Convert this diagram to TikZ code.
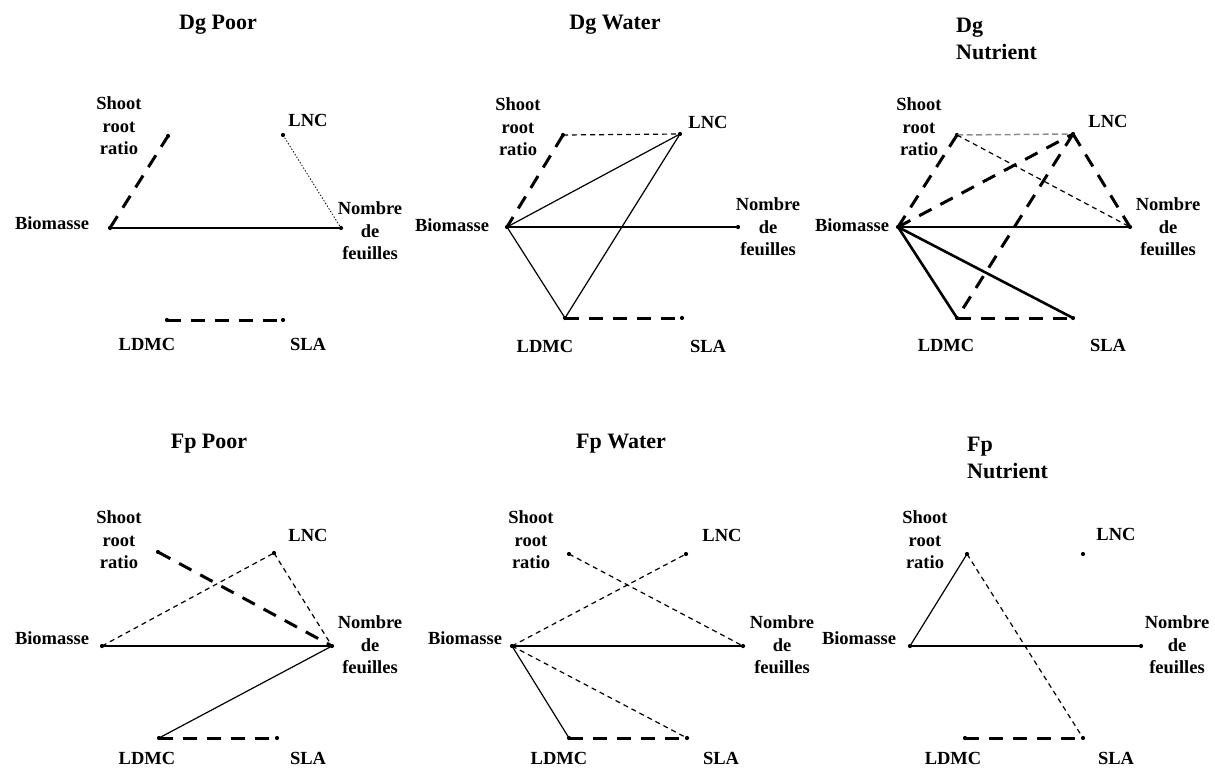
\documentclass[tikz,border=0pt]{standalone}
\usepackage{fontspec}
\setmainfont{Liberation Serif}
\begin{document}
\begin{tikzpicture}[x=1pt,y=-1pt,
  dot/.style={circle,fill=black,inner sep=0pt,minimum size=4.2pt},
  lab/.style={inner sep=0pt,align=center,font=\bfseries\fontsize{18.5}{22.5}\selectfont},
  ttl/.style={inner sep=0pt,align=center,font=\bfseries\fontsize{22}{27}\selectfont},
  ttlL/.style={inner sep=0pt,align=left,anchor=west,font=\bfseries\fontsize{22}{27}\selectfont},
  solidthin/.style={line width=1.2pt},
  solidthick/.style={line width=2.6pt},
  bigdash/.style={line width=3pt,dash pattern=on 14pt off 10pt},
  smalldash/.style={line width=1.2pt,dash pattern=on 5pt off 4pt},
  greydash/.style={line width=1.5pt,draw=black!45,dash pattern=on 6pt off 3.5pt},
  dotline/.style={line width=0.8pt,dash pattern=on 1.4pt off 1.8pt}]
\useasboundingbox (0,0) rectangle (1215,769);

% ---------- Panel 1: Dg Poor ----------
\node[ttl] (t1) at (218,25) {Dg Poor};
\node[dot] (a1) at (110,228) {};
\node[dot] (s1) at (168,136) {};
\node[dot] (l1) at (283,135) {};
\node[dot] (n1) at (341,228) {};
\node[dot] (d1) at (167,320) {};
\node[dot] (e1) at (283,320) {};
\node[lab] (as1) at (52,223) {Biomasse};
\node[lab] (ss1) at (119,126) {Shoot\\root\\ratio};
\node[lab] (ls1) at (308,120) {LNC};
\node[lab] (ns1) at (370,231) {Nombre\\de\\feuilles};
\node[lab] (ds1) at (147,344) {LDMC};
\node[lab] (es1) at (308,344) {SLA};
\draw[bigdash] (a1.center) -- (s1.center);
\draw[dotline] (l1.center) -- (n1.center);
\draw[solidthin] (a1.center) -- (n1.center);
\draw[bigdash] (d1.center) -- (e1.center);

% ---------- Panel 2: Dg Water ----------
\node[ttl] (t2) at (615,25) {Dg Water};
\node[dot] (a2) at (507,227) {};
\node[dot] (s2) at (563,135) {};
\node[dot] (l2) at (680,134) {};
\node[dot] (n2) at (738,227) {};
\node[dot] (d2) at (565,318) {};
\node[dot] (e2) at (682,318) {};
\node[lab] (as2) at (452,225) {Biomasse};
\node[lab] (ss2) at (518,127) {Shoot\\root\\ratio};
\node[lab] (ls2) at (708,122) {LNC};
\node[lab] (ns2) at (768,227) {Nombre\\de\\feuilles};
\node[lab] (ds2) at (545,346) {LDMC};
\node[lab] (es2) at (708,346) {SLA};
\draw[smalldash] (s2.center) -- (l2.center);
\draw[bigdash] (s2.center) -- (a2.center);
\draw[solidthin] (a2.center) -- (l2.center);
\draw[solidthin] (l2.center) -- (d2.center);
\draw[solidthick] (a2.center) -- (n2.center);
\draw[solidthin] (a2.center) -- (d2.center);
\draw[bigdash] (d2.center) -- (e2.center);

% ---------- Panel 3: Dg Nutrient ----------
\node[ttlL] (t3) at (956,38.5) {Dg\\Nutrient};
\node[dot] (a3) at (898,227) {};
\node[dot] (s3) at (957,135) {};
\node[dot] (l3) at (1073,134) {};
\node[dot] (n3) at (1130,227) {};
\node[dot] (d3) at (957,318) {};
\node[dot] (e3) at (1073,318) {};
\node[lab] (as3) at (852,225) {Biomasse};
\node[lab] (ss3) at (919,127) {Shoot\\root\\ratio};
\node[lab] (ls3) at (1108,121) {LNC};
\node[lab] (ns3) at (1168,227) {Nombre\\de\\feuilles};
\node[lab] (ds3) at (946,345) {LDMC};
\node[lab] (es3) at (1108,345) {SLA};
\draw[greydash] (s3.center) -- (l3.center);
\draw[smalldash] (s3.center) -- (n3.center);
\draw[bigdash] (s3.center) -- (a3.center);
\draw[bigdash] (a3.center) -- (l3.center);
\draw[bigdash] (l3.center) -- (d3.center);
\draw[bigdash] (l3.center) -- (n3.center);
\draw[solidthick] (a3.center) -- (n3.center);
\draw[solidthick] (a3.center) -- (e3.center);
\draw[solidthick] (a3.center) -- (d3.center);
\draw[bigdash] (d3.center) -- (e3.center);

% ---------- Panel 4: Fp Poor ----------
\node[ttl] (t4) at (209,444) {Fp Poor};
\node[dot] (a4) at (102,646) {};
\node[dot] (s4) at (158,552) {};
\node[dot] (l4) at (274,553) {};
\node[dot] (n4) at (332,646) {};
\node[dot] (d4) at (159,738) {};
\node[dot] (e4) at (277,738) {};
\node[lab] (as4) at (52,638) {Biomasse};
\node[lab] (ss4) at (119,540) {Shoot\\root\\ratio};
\node[lab] (ls4) at (308,535) {LNC};
\node[lab] (ns4) at (370,645) {Nombre\\de\\feuilles};
\node[lab] (ds4) at (147,758) {LDMC};
\node[lab] (es4) at (308,758) {SLA};
\draw[bigdash] (s4.center) -- (n4.center);
\draw[smalldash] (a4.center) -- (l4.center);
\draw[smalldash] (l4.center) -- (n4.center);
\draw[solidthin] (a4.center) -- (n4.center);
\draw[solidthin] (d4.center) -- (n4.center);
\draw[bigdash] (d4.center) -- (e4.center);

% ---------- Panel 5: Fp Water ----------
\node[ttl] (t5) at (621,444) {Fp Water};
\node[dot] (a5) at (512,646) {};
\node[dot] (s5) at (569,554) {};
\node[dot] (l5) at (686,554) {};
\node[dot] (n5) at (743,646) {};
\node[dot] (d5) at (569,738) {};
\node[dot] (e5) at (687,738) {};
\node[lab] (as5) at (465,638) {Biomasse};
\node[lab] (ss5) at (531,540) {Shoot\\root\\ratio};
\node[lab] (ls5) at (722,535) {LNC};
\node[lab] (ns5) at (782,645) {Nombre\\de\\feuilles};
\node[lab] (ds5) at (559,758) {LDMC};
\node[lab] (es5) at (721,758) {SLA};
\draw[smalldash] (s5.center) -- (n5.center);
\draw[smalldash] (a5.center) -- (l5.center);
\draw[solidthin] (a5.center) -- (n5.center);
\draw[smalldash] (a5.center) -- (e5.center);
\draw[solidthin] (a5.center) -- (d5.center);
\draw[bigdash] (d5.center) -- (e5.center);

% ---------- Panel 6: Fp Nutrient ----------
\node[ttlL] (t6) at (967,457.5) {Fp\\Nutrient};
\node[dot] (a6) at (910,646) {};
\node[dot] (s6) at (967,554) {};
\node[dot] (l6) at (1083,554) {};
\node[dot] (n6) at (1141,646) {};
\node[dot] (d6) at (965,738) {};
\node[dot] (e6) at (1083,738) {};
\node[lab] (as6) at (859,638) {Biomasse};
\node[lab] (ss6) at (925,540) {Shoot\\root\\ratio};
\node[lab] (ls6) at (1116,534) {LNC};
\node[lab] (ns6) at (1177,645) {Nombre\\de\\feuilles};
\node[lab] (ds6) at (953,758) {LDMC};
\node[lab] (es6) at (1116,758) {SLA};
\draw[solidthin] (a6.center) -- (s6.center);
\draw[smalldash] (s6.center) -- (e6.center);
\draw[solidthick] (a6.center) -- (n6.center);
\draw[bigdash] (d6.center) -- (e6.center);
\end{tikzpicture}
\end{document}
